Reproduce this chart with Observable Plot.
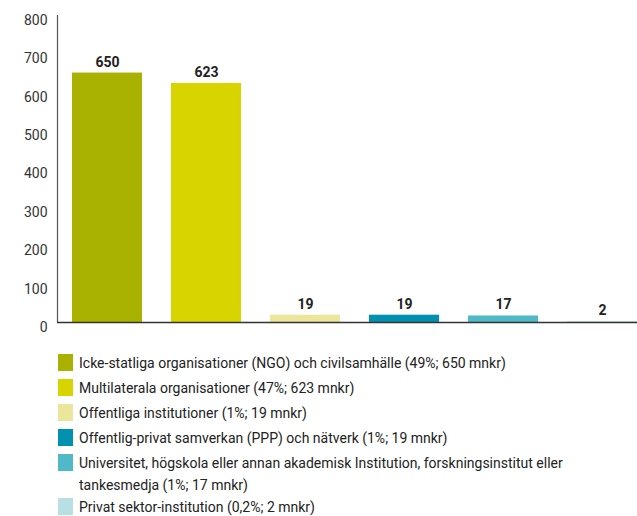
<!DOCTYPE html>
<html>
<head>
<meta charset="utf-8">
<script src="https://cdn.jsdelivr.net/npm/d3@7"></script>
<script src="https://cdn.jsdelivr.net/npm/@observablehq/plot@0.6"></script>
<style>
  body { margin: 0; background: #fff; font-family: Roboto, "Liberation Sans", sans-serif; }
  #chart svg { display: block; }
  .legend { margin: 12px 0 0 58px; font-size: 14px; color: #222; }
  .row { display: flex; align-items: flex-start; margin-bottom: 3px; }
  .row.wrapped { margin-bottom: 0; }
  .sw { width: 15px; height: 17px; flex: none; margin-top: 2px; margin-right: 6px; }
  .lab { line-height: 22px; white-space: pre-line; }
</style>
</head>
<body>
<div id="chart"></div>
<div class="legend" id="legend"></div>
<script>
const categories = ["NGO", "Multilaterala", "Offentliga", "PPP", "Universitet", "Privat"];
const values = [650, 623, 19, 19, 17, 2];
const colors = ["#a9b200", "#d8d400", "#ebe69b", "#0090b0", "#4fb9c8", "#b8dfe4"];
const legendLabels = [
  "Icke-statliga organisationer (NGO) och civilsamhälle (49%; 650 mnkr)",
  "Multilaterala organisationer (47%; 623 mnkr)",
  "Offentliga institutioner (1%; 19 mnkr)",
  "Offentlig-privat samverkan (PPP) och nätverk (1%; 19 mnkr)",
  "Universitet, högskola eller annan akademisk Institution, forskningsinstitut eller\ntankesmedja (1%; 17 mnkr)",
  "Privat sektor-institution (0,2%; 2 mnkr)"
];
const yTicks = [0, 100, 200, 300, 400, 500, 600, 700, 800];

const data = categories.map((c, i) => ({cat: c, value: values[i], color: colors[i]}));

const chart = Plot.plot({
  width: 637,
  height: 340,
  marginLeft: 57,
  marginRight: 0,
  marginTop: 15,
  marginBottom: 18,
  style: {fontFamily: "Roboto, sans-serif", background: "white"},
  x: {domain: categories, range: [57, 652], paddingInner: 0.293, paddingOuter: 0.15, axis: null},
  y: {domain: [0, 800], axis: null},
  color: {type: "identity"},
  marks: [
    Plot.barY(data, {x: "cat", y: "value", fill: "color"}),
    Plot.axisY({ticks: yTicks, tickSize: 0, tickPadding: 10, dy: 5, fontSize: 14, fill: "#333", label: null, tickFormat: d => String(d)}),
    Plot.frame({anchor: "left", stroke: "#555", strokeWidth: 1.2}),
    Plot.ruleY([0], {stroke: "#333", strokeWidth: 1.5}),
    Plot.text(data, {x: "cat", y: "value", text: d => String(d.value), dy: -11, fontSize: 14, fontWeight: "bold", fill: "#222"})
  ]
});
document.getElementById("chart").appendChild(chart);

const legend = document.getElementById("legend");
legendLabels.forEach((t, i) => {
  const row = document.createElement("div");
  row.className = t.includes("\n") ? "row wrapped" : "row";
  const sw = document.createElement("div");
  sw.className = "sw";
  sw.style.background = colors[i];
  const lab = document.createElement("div");
  lab.className = "lab";
  lab.textContent = t;
  row.appendChild(sw);
  row.appendChild(lab);
  legend.appendChild(row);
});
</script>
</body>
</html>
